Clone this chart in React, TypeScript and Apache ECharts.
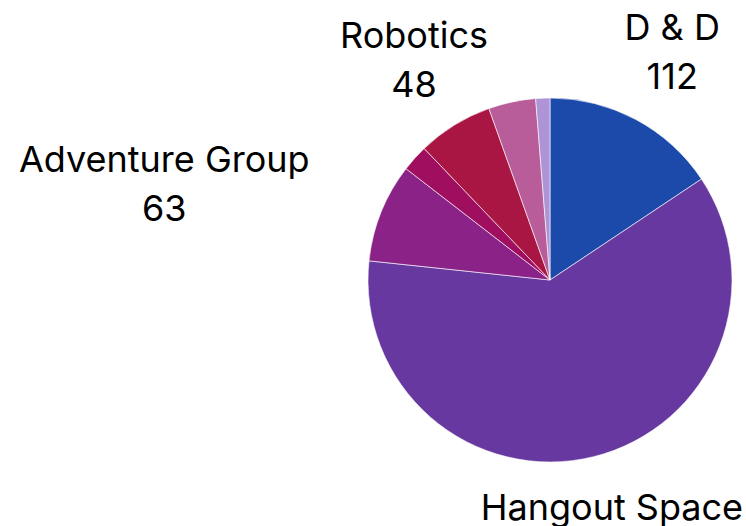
import React, { useEffect, useRef } from "react";
import * as echarts from "echarts";

const categories = ["D & D", "Hangout Space", "Adventure Group", "Other A", "Robotics", "Other B", "Other C"];
const values = [112, 437, 63, 17, 48, 30, 9];
const colors = ["#1c4aaa", "#6739a0", "#8a2288", "#a00e60", "#aa1643", "#b85d9a", "#ae94d6"];
const labelled = [true, true, true, false, true, false, false];

const W = 746;
const H = 526;
const CX = 550;
const CY = 280;
const R = 182;
const LABEL_R = 259;

export default function App() {
  const ref = useRef<HTMLDivElement>(null);
  useEffect(() => {
    if (!ref.current) return;
    const chart = echarts.init(ref.current, null, { renderer: "svg" });
    const total = values.reduce((a, b) => a + b, 0);
    const mids: number[] = [];
    let acc = 0;
    values.forEach((v) => {
      mids.push(((acc + v / 2) / total) * Math.PI * 2);
      acc += v;
    });
    chart.setOption({
      animation: false,
      series: [
        {
          type: "pie",
          center: [CX, CY],
          radius: R,
          startAngle: 90,
          clockwise: true,
          avoidLabelOverlap: false,
          itemStyle: { borderColor: "#ffffff", borderWidth: 0.6 },
          label: {
            show: true,
            position: "outside",
            formatter: "{b}\n{c}",
            fontFamily: "Inter",
            fontSize: 36,
            lineHeight: 49,
            color: "#000000",
            align: "center",
          },
          labelLine: { show: false },
          labelLayout: (p: any) => {
            const a = mids[p.dataIndex];
            const dx = Math.sin(a);
            const dy = -Math.cos(a);
            const w = p.labelRect ? p.labelRect.width : 0;
            let x = CX + dx * LABEL_R;
            if (Math.abs(dx) > 0.7) x += dx < 0 ? -w / 2 : w / 2;
            return {
              x,
              y: CY + dy * LABEL_R,
              align: "center",
              verticalAlign: "middle",
            };
          },
          data: categories.map((name, i) => ({
            name,
            value: values[i],
            itemStyle: { color: colors[i] },
            label: { show: labelled[i] },
          })),
        },
      ],
    });
    return () => chart.dispose();
  }, []);
  return (
    <div
      ref={ref}
      style={{ position: "fixed", left: 0, top: 0, width: W, height: H, background: "#ffffff" }}
    />
  );
}
